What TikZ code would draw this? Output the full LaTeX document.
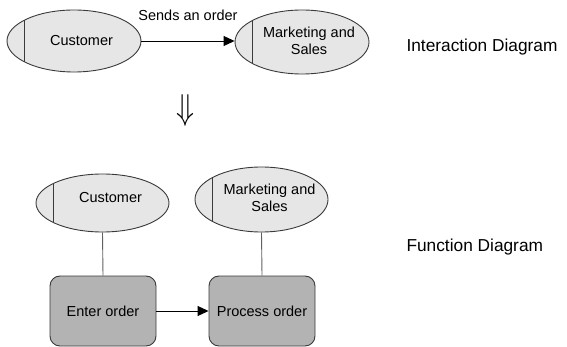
\documentclass[tikz,border=0pt]{standalone}
\usepackage{fontspec}
\setmainfont{Liberation Sans}
\usetikzlibrary{shapes.geometric,arrows.meta,calc}
\definecolor{ellfill}{HTML}{E6E6E6}
\definecolor{boxfill}{HTML}{B3B3B3}
\definecolor{edge}{HTML}{3A3A3A}
\begin{document}
\begin{tikzpicture}[x=1pt,y=-1pt,
  every node/.style={font=\fontsize{14.5}{17}\selectfont},
  actor/.style={ellipse,draw=edge,fill=ellfill,line width=0.9pt,inner sep=0pt},
  actortext/.style={align=center,inner sep=0pt},
  func/.style={rectangle,rounded corners=10pt,draw=edge,fill=boxfill,line width=0.9pt,inner sep=0pt,minimum width=106pt,minimum height=70pt},
  chordline/.style={draw=edge,line width=0.9pt},
  link/.style={draw=edge!80,line width=0.9pt},
  flow/.style={draw=black,line width=0.9pt,-{Triangle[length=11pt,width=10pt]}},
  side/.style={font=\fontsize{17.3}{20}\selectfont,anchor=west}]
\useasboundingbox (0,0) rectangle (567,347);
% top interaction diagram
\node[actor,minimum width=134pt,minimum height=62pt] (c1) at (74,41) {};
\node[actortext] (c1t) at (81.5,41) {Customer};
\node[actor,minimum width=134pt,minimum height=64pt] (m1) at (302,42) {};
\node[actortext] (m1t) at (309,41) {Marketing and\\Sales};
\draw[chordline] ($(c1.center)+(-50,-20.6)$) -- ($(c1.center)+(-50,20.6)$);
\draw[chordline] ($(m1.center)+(-50,-21.3)$) -- ($(m1.center)+(-50,21.3)$);
\draw[flow] (c1.east) -- node[above=17pt,midway] (lbl) {Sends an order} (c1.east -| m1.west);
\node[side] (t1) at (403,47) {Interaction Diagram};
% transformation arrow
\node[inner sep=0pt] (dn) at (185.5,111) {\resizebox*{18pt}{32pt}{$\Downarrow$}};
% bottom function diagram
\node[actor,minimum width=133pt,minimum height=58pt] (c2) at (102.5,203) {};
\node[actortext] (c2t) at (110.5,198) {Customer};
\node[actor,minimum width=133pt,minimum height=65pt] (m2) at (261.5,199.5) {};
\node[actortext] (m2t) at (269.5,198) {Marketing and\\Sales};
\draw[chordline] ($(c2.center)+(-49.5,-19.3)$) -- ($(c2.center)+(-49.5,19.3)$);
\draw[chordline] ($(m2.center)+(-49.5,-21.6)$) -- ($(m2.center)+(-49.5,21.6)$);
\node[func] (e) at (103,311) {Enter order};
\node[func] (p) at (262,311) {Process order};
\draw[link] (c2.south) -- (e.north);
\draw[link] (m2.south) -- (p.north);
\draw[flow] (e.east) -- (p.west);
\node[side] (t2) at (403,247) {Function Diagram};
\end{tikzpicture}
\end{document}
